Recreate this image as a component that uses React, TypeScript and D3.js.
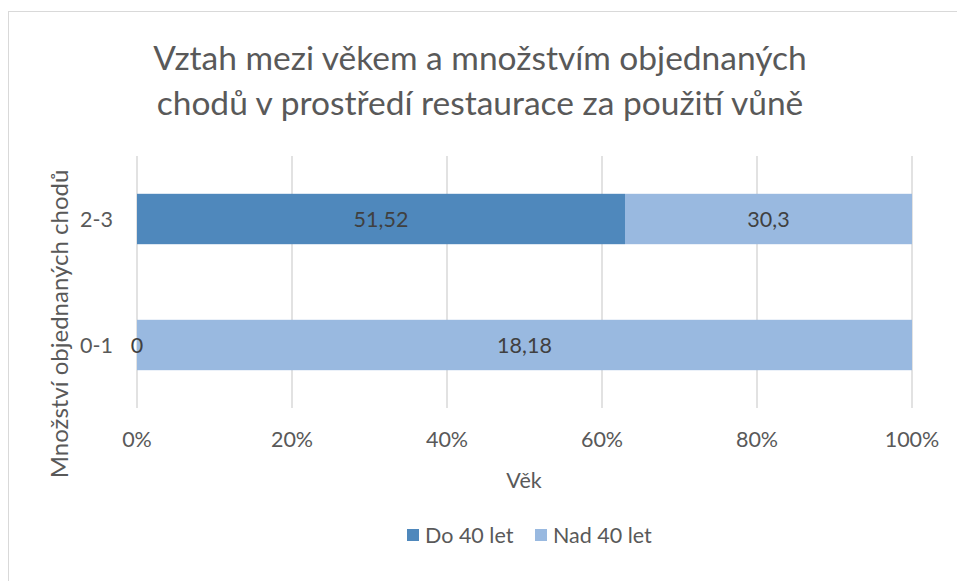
import React from "react";
import * as d3 from "d3";

const categories = ["0-1", "2-3"];
const seriesNames = ["Do 40 let", "Nad 40 let"];
const do40 = [0, 51.52];
const nad40 = [18.18, 30.3];
const xTicks = [0, 0.2, 0.4, 0.6, 0.8, 1];
const titleLines = ["Vztah mezi věkem a množstvím objednaných", "chodů v prostředí restaurace za použití vůně"];
const xTitle = "Věk";
const yTitle = "Množství objednaných chodů";

const colors = ["#4f88bc", "#99b9e0"];
const FONT = "Lato, 'Open Sans', sans-serif";
const TXT = "#595959";
const FS = 21.5;

export default function App() {
  const W = 957, H = 581;
  const x = d3.scaleLinear().domain([0, 1]).range([137, 912]);
  const y = d3.scaleBand().domain(["2-3", "0-1"]).range([156, 408]).paddingInner(0.6).paddingOuter(0.3);
  const rows = categories.map((c, i) => {
    const vals = [do40[i], nad40[i]];
    const total = d3.sum(vals);
    let acc = 0;
    return vals.map((v, s) => {
      const x0 = acc / total;
      acc += v;
      return { c, s, v, x0, x1: acc / total };
    });
  }).flat();
  const fmt = (v: number) => String(v).replace(".", ",");
  return (
    <svg width={W} height={H} style={{ position: "absolute", left: 0, top: 0 }} fontFamily={FONT}>
      <rect x={8.5} y={11.5} width={W} height={H} fill="#fff" stroke="#d9d9d9" />
      {titleLines.map((t, i) => (
        <text key={i} x={480} y={70 + i * 45} textAnchor="middle" fontSize={33.5} fill={TXT}>{t}</text>
      ))}
      {xTicks.map((t) => (
        <line key={t} x1={x(t)} x2={x(t)} y1={156} y2={408} stroke="#d9d9d9" strokeWidth={1.5} />
      ))}
      {rows.map((r, i) => (
        <rect key={i} x={x(r.x0)} y={y(r.c)} width={x(r.x1) - x(r.x0)} height={y.bandwidth()} fill={colors[r.s]} />
      ))}
      {rows.map((r, i) => (
        <text key={"l" + i} x={(x(r.x0) + x(r.x1)) / 2} y={y(r.c)! + y.bandwidth() / 2} dy="0.35em" textAnchor="middle" fontSize={FS} fill="#404040">{fmt(r.v)}</text>
      ))}
      {xTicks.map((t) => (
        <text key={"t" + t} x={x(t)} y={439} dy="0.35em" textAnchor="middle" fontSize={FS} fill={TXT}>{d3.format(".0%")(t)}</text>
      ))}
      {categories.map((c) => (
        <text key={c} x={113} y={y(c)! + y.bandwidth() / 2} dy="0.35em" textAnchor="end" fontSize={FS} fill={TXT}>{c}</text>
      ))}
      <text x={524} y={480} dy="0.35em" textAnchor="middle" fontSize={FS} fill={TXT}>{xTitle}</text>
      <text transform="translate(60,324) rotate(-90)" dy="0.35em" textAnchor="middle" fontSize={24} fill={TXT}>{yTitle}</text>
      {seriesNames.map((n, i) => {
        const lx = [407, 535][i];
        return (
          <g key={n}>
            <rect x={lx} y={529} width={12} height={12} fill={colors[i]} />
            <text x={lx + 18} y={535} dy="0.35em" fontSize={FS} fill={TXT}>{n}</text>
          </g>
        );
      })}
    </svg>
  );
}
